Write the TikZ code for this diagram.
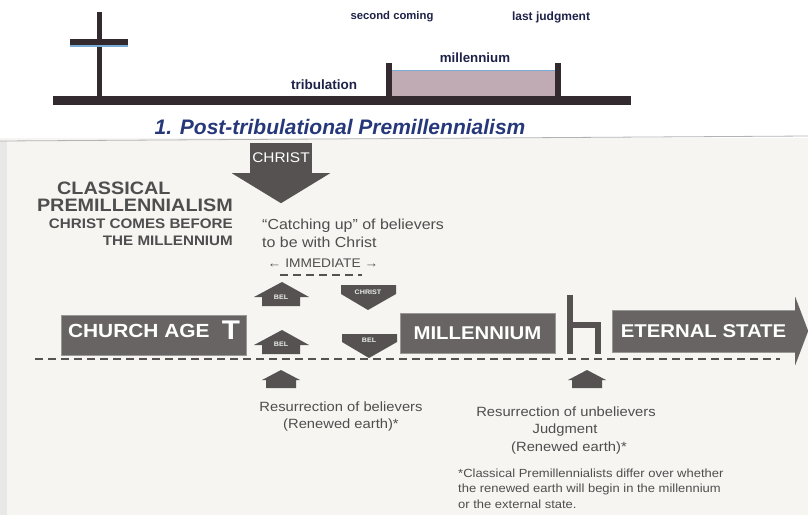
\documentclass[tikz,border=0pt]{standalone}
\usepackage{fontspec}
\setmainfont{Liberation Sans}
\newfontfamily\scanfont[FakeStretch=1.1]{Liberation Sans}
\usepackage{tikz}
\usetikzlibrary{positioning}
\definecolor{ptnavy}{RGB}{30,34,72}
\definecolor{ptblue}{RGB}{38,56,122}
\definecolor{ptbar}{RGB}{50,42,46}
\definecolor{ptmauve}{RGB}{192,170,180}
\definecolor{ptsky}{RGB}{120,172,215}
\definecolor{cpgray}{RGB}{86,82,82}
\definecolor{cpbox}{RGB}{104,100,99}
\definecolor{cptext}{RGB}{78,78,78}
\definecolor{cppaper}{RGB}{246,245,242}
\tikzstyle{toplabel} = [text=ptnavy, inner sep=0pt]
\tikzstyle{period} = [fill=cpbox, draw=cpgray!60, text=white, inner sep=0pt, font=\scanfont\bfseries\fontsize{18.5}{18.5}\selectfont]
\tikzstyle{chip} = [fill=cpgray]
\tikzstyle{chiplabel} = [text=white!85!gray, inner sep=0pt, font=\scanfont\bfseries\fontsize{6.5}{6.5}\selectfont]
\tikzstyle{note} = [text=cptext, inner sep=0pt, font=\scanfont\fontsize{13.4}{18}\selectfont]
\tikzstyle{timeline} = [cpgray, line width=2.6pt, dash pattern=on 8pt off 5pt]

\begin{document}
\begin{tikzpicture}[x=1pt, y=-1pt]
\useasboundingbox (0,0) rectangle (808,515);
% Post-tribulational chart
\fill[ptbar] (97,12) rectangle (102,100);
\fill[ptbar] (70,39) rectangle (128,45);
\fill[ptsky] (70,45) rectangle (128,46.5);
\fill[ptmauve] (392,70) rectangle (555,97);
\draw[ptsky, line width=1.2pt] (392,70.5) -- (555,70.5);
\fill[ptbar] (386,63) rectangle (392,100);
\fill[ptbar] (555,63) rectangle (561,100);
\fill[ptbar] (53,96) rectangle (631,105);
\node[toplabel, font=\bfseries\fontsize{11.3}{11.3}\selectfont] (coming) at (392,17) {second coming};
\node[toplabel, font=\bfseries\fontsize{12}{12}\selectfont] (lastjudg) at (551,17) {last judgment};
\node[toplabel, font=\bfseries\fontsize{13.3}{13.3}\selectfont] (millnote) at (475,58) {millennium};
\node[toplabel, font=\bfseries\fontsize{13.5}{13.5}\selectfont] (tribnote) at (324,85) {tribulation};
\node[text=ptblue, inner sep=0pt, font=\bfseries\itshape\fontsize{21}{21}\selectfont] (posttrib) at (340,127) {1. Post-tribulational Premillennialism};

% Classical premillennialism chart
\fill[cppaper] (0,138) rectangle (808,515);
\fill[gray!18] (0,141) rectangle (7,515);
\draw[gray!60, line width=0.8pt] (0,141) -- (808,136);
\node[fill=cpgray, minimum width=62, minimum height=30, inner sep=0pt, text=white, font=\scanfont\fontsize{14}{14}\selectfont] (christ) at (281,158) {CHRIST};
\fill[cpgray] ([xshift=-18pt]christ.south west) -- ([xshift=18pt]christ.south east) -- ([yshift=-30pt]christ.south) -- cycle;

\node[text=cptext, inner sep=0pt, anchor=base west, font=\scanfont\bfseries\fontsize{18}{18}\selectfont] (classical) at (57,194) {CLASSICAL};
\node[text=cptext, inner sep=0pt, anchor=base east, font=\scanfont\bfseries\fontsize{18}{18}\selectfont] (premill) at (233,211) {PREMILLENNIALISM};
\node[text=cptext, inner sep=0pt, anchor=mid east, font=\scanfont\bfseries\fontsize{13.8}{13.8}\selectfont] (before) at (233,226) {CHRIST COMES BEFORE};
\node[text=cptext, inner sep=0pt, anchor=mid east, font=\scanfont\bfseries\fontsize{13.8}{13.8}\selectfont] (themill) at (233,243) {THE MILLENNIUM};

\node[note, anchor=mid west, font=\scanfont\fontsize{14.5}{14.5}\selectfont] (catching) at (262,227) {“Catching up” of believers};
\node[note, anchor=mid west, font=\scanfont\fontsize{14.5}{14.5}\selectfont] (withchrist) at (262,245) {to be with Christ};
\node[note, font=\scanfont\fontsize{12.5}{12.5}\selectfont] (immediate) at (323,263) {← IMMEDIATE →};
\draw[timeline] (280,275) -- (362,275);

% rapture arrows
\fill[chip] (282,282) -- (309,297) -- (300,297) -- (300,306) -- (262,306) -- (262,297) -- (254,297) -- cycle;
\node[chiplabel] (belup) at (281,297) {BEL};
\fill[chip] (341,285) -- (396,285) -- (396,294) -- (368,310) -- (341,294) -- cycle;
\node[chiplabel] (christdown) at (368,292) {CHRIST};
\fill[chip] (282,330) -- (309,345) -- (300,345) -- (300,354) -- (262,354) -- (262,345) -- (254,345) -- cycle;
\node[chiplabel] (belrise) at (281,344) {BEL};
\fill[chip] (342,334) -- (397,334) -- (397,342) -- (369,358) -- (342,342) -- cycle;
\node[chiplabel] (beldown) at (369,340) {BEL};

% periods
\node[period, minimum width=185, minimum height=40] (church) at (153.5,335) {};
\node[text=white, inner sep=0pt, anchor=mid west, font=\scanfont\bfseries\fontsize{19}{19}\selectfont] (churchtxt) at ([xshift=7pt]church.west) {CHURCH AGE};
\node[text=white, inner sep=0pt, anchor=mid east, font=\scanfont\bfseries\fontsize{27}{27}\selectfont] (tribT) at ([xshift=-6pt,yshift=-2pt]church.east) {T};
\node[period, minimum width=155, minimum height=40] (millbox) at (477.5,333) {MILLENNIUM};
\fill[cpgray] (567,295) rectangle (573,354);
\fill[cpgray] (567,322) rectangle (601,328);
\fill[cpgray] (595,322) rectangle (601,354);
\node[period, minimum width=183, minimum height=42] (eternal) at (703.5,331) {ETERNAL STATE};
\fill[cpbox] ([yshift=13pt]eternal.north east) -- ([xshift=13pt]eternal.east) -- ([yshift=-13pt]eternal.south east) -- cycle;
\draw[timeline] (35,359) -- (780,359);

% resurrections
\fill[chip] (281,370) -- (300,380) -- (296,380) -- (296,388) -- (266,388) -- (266,380) -- (262,380) -- cycle;
\fill[chip] (587,370) -- (606,380) -- (602,380) -- (602,388) -- (572,388) -- (572,380) -- (568,380) -- cycle;
\node[note] (resbel) at (341,407) {Resurrection of believers};
\node[note] (renew1) at (341,425) {(Renewed earth)*};
\node[note] (resunbel) at (566,412) {Resurrection of unbelievers};
\node[note] (judgment) at (565,430) {Judgment};
\node[note] (renew2) at (569,448) {(Renewed earth)*};
\node[note, anchor=north west, align=left, font=\scanfont\fontsize{11.8}{15.2}\selectfont] (footnote) at (458,469) {*Classical Premillennialists differ over whether\\the renewed earth will begin in the millennium\\or the external state.};
\end{tikzpicture}
\end{document}
